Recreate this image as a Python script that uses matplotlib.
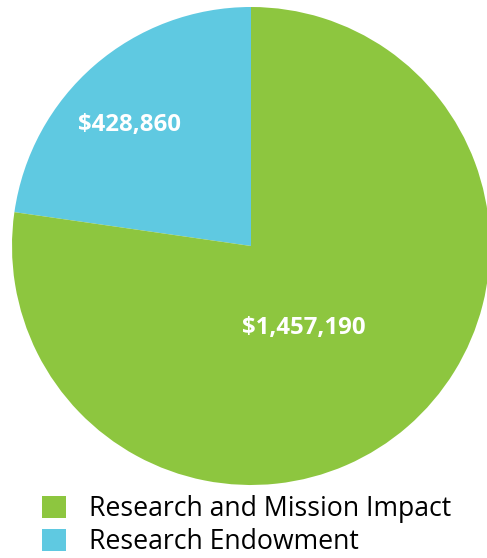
import matplotlib.pyplot as plt
from matplotlib.patches import Patch

# Budget split (blue wedge drawn first, counter-clockwise from the top)
categories = ['Research Endowment', 'Research and Mission Impact']
amounts = [428860, 1457190]
value_labels = ['$428,860', '$1,457,190']
colors = ['#5FC9E1', '#8DC63F']

fig = plt.figure(figsize=(4.87, 5.58), dpi=100)
ax = fig.add_axes([12 / 487, 73 / 558, 478 / 487, 478 / 558])

ax.pie(amounts, colors=colors, startangle=90, counterclock=True,
       wedgeprops=dict(linewidth=0))
ax.set_xlim(-1, 1)
ax.set_ylim(-1, 1)
ax.set_aspect('equal')

# value labels inside the wedges
label_pos = [(-0.508, 0.505), (0.22, -0.345)]
for (x, y), txt in zip(label_pos, value_labels):
    ax.text(x, y, txt, color='white', fontsize=17.3, fontweight='bold',
            family='Open Sans', ha='center', va='center')

# legend: green entry first
handles = [Patch(facecolor=colors[1], edgecolor='none'),
           Patch(facecolor=colors[0], edgecolor='none')]
fig.legend(handles, [categories[1], categories[0]],
           loc='upper left', bbox_to_anchor=(0.086, 0.113),
           frameon=False, prop={'family': 'Open Sans', 'size': 19.2},
           handlelength=0.92, handleheight=0.92, handletextpad=0.85,
           labelspacing=0.2, borderaxespad=0, borderpad=0)

fig.savefig('out.png', dpi=100)
